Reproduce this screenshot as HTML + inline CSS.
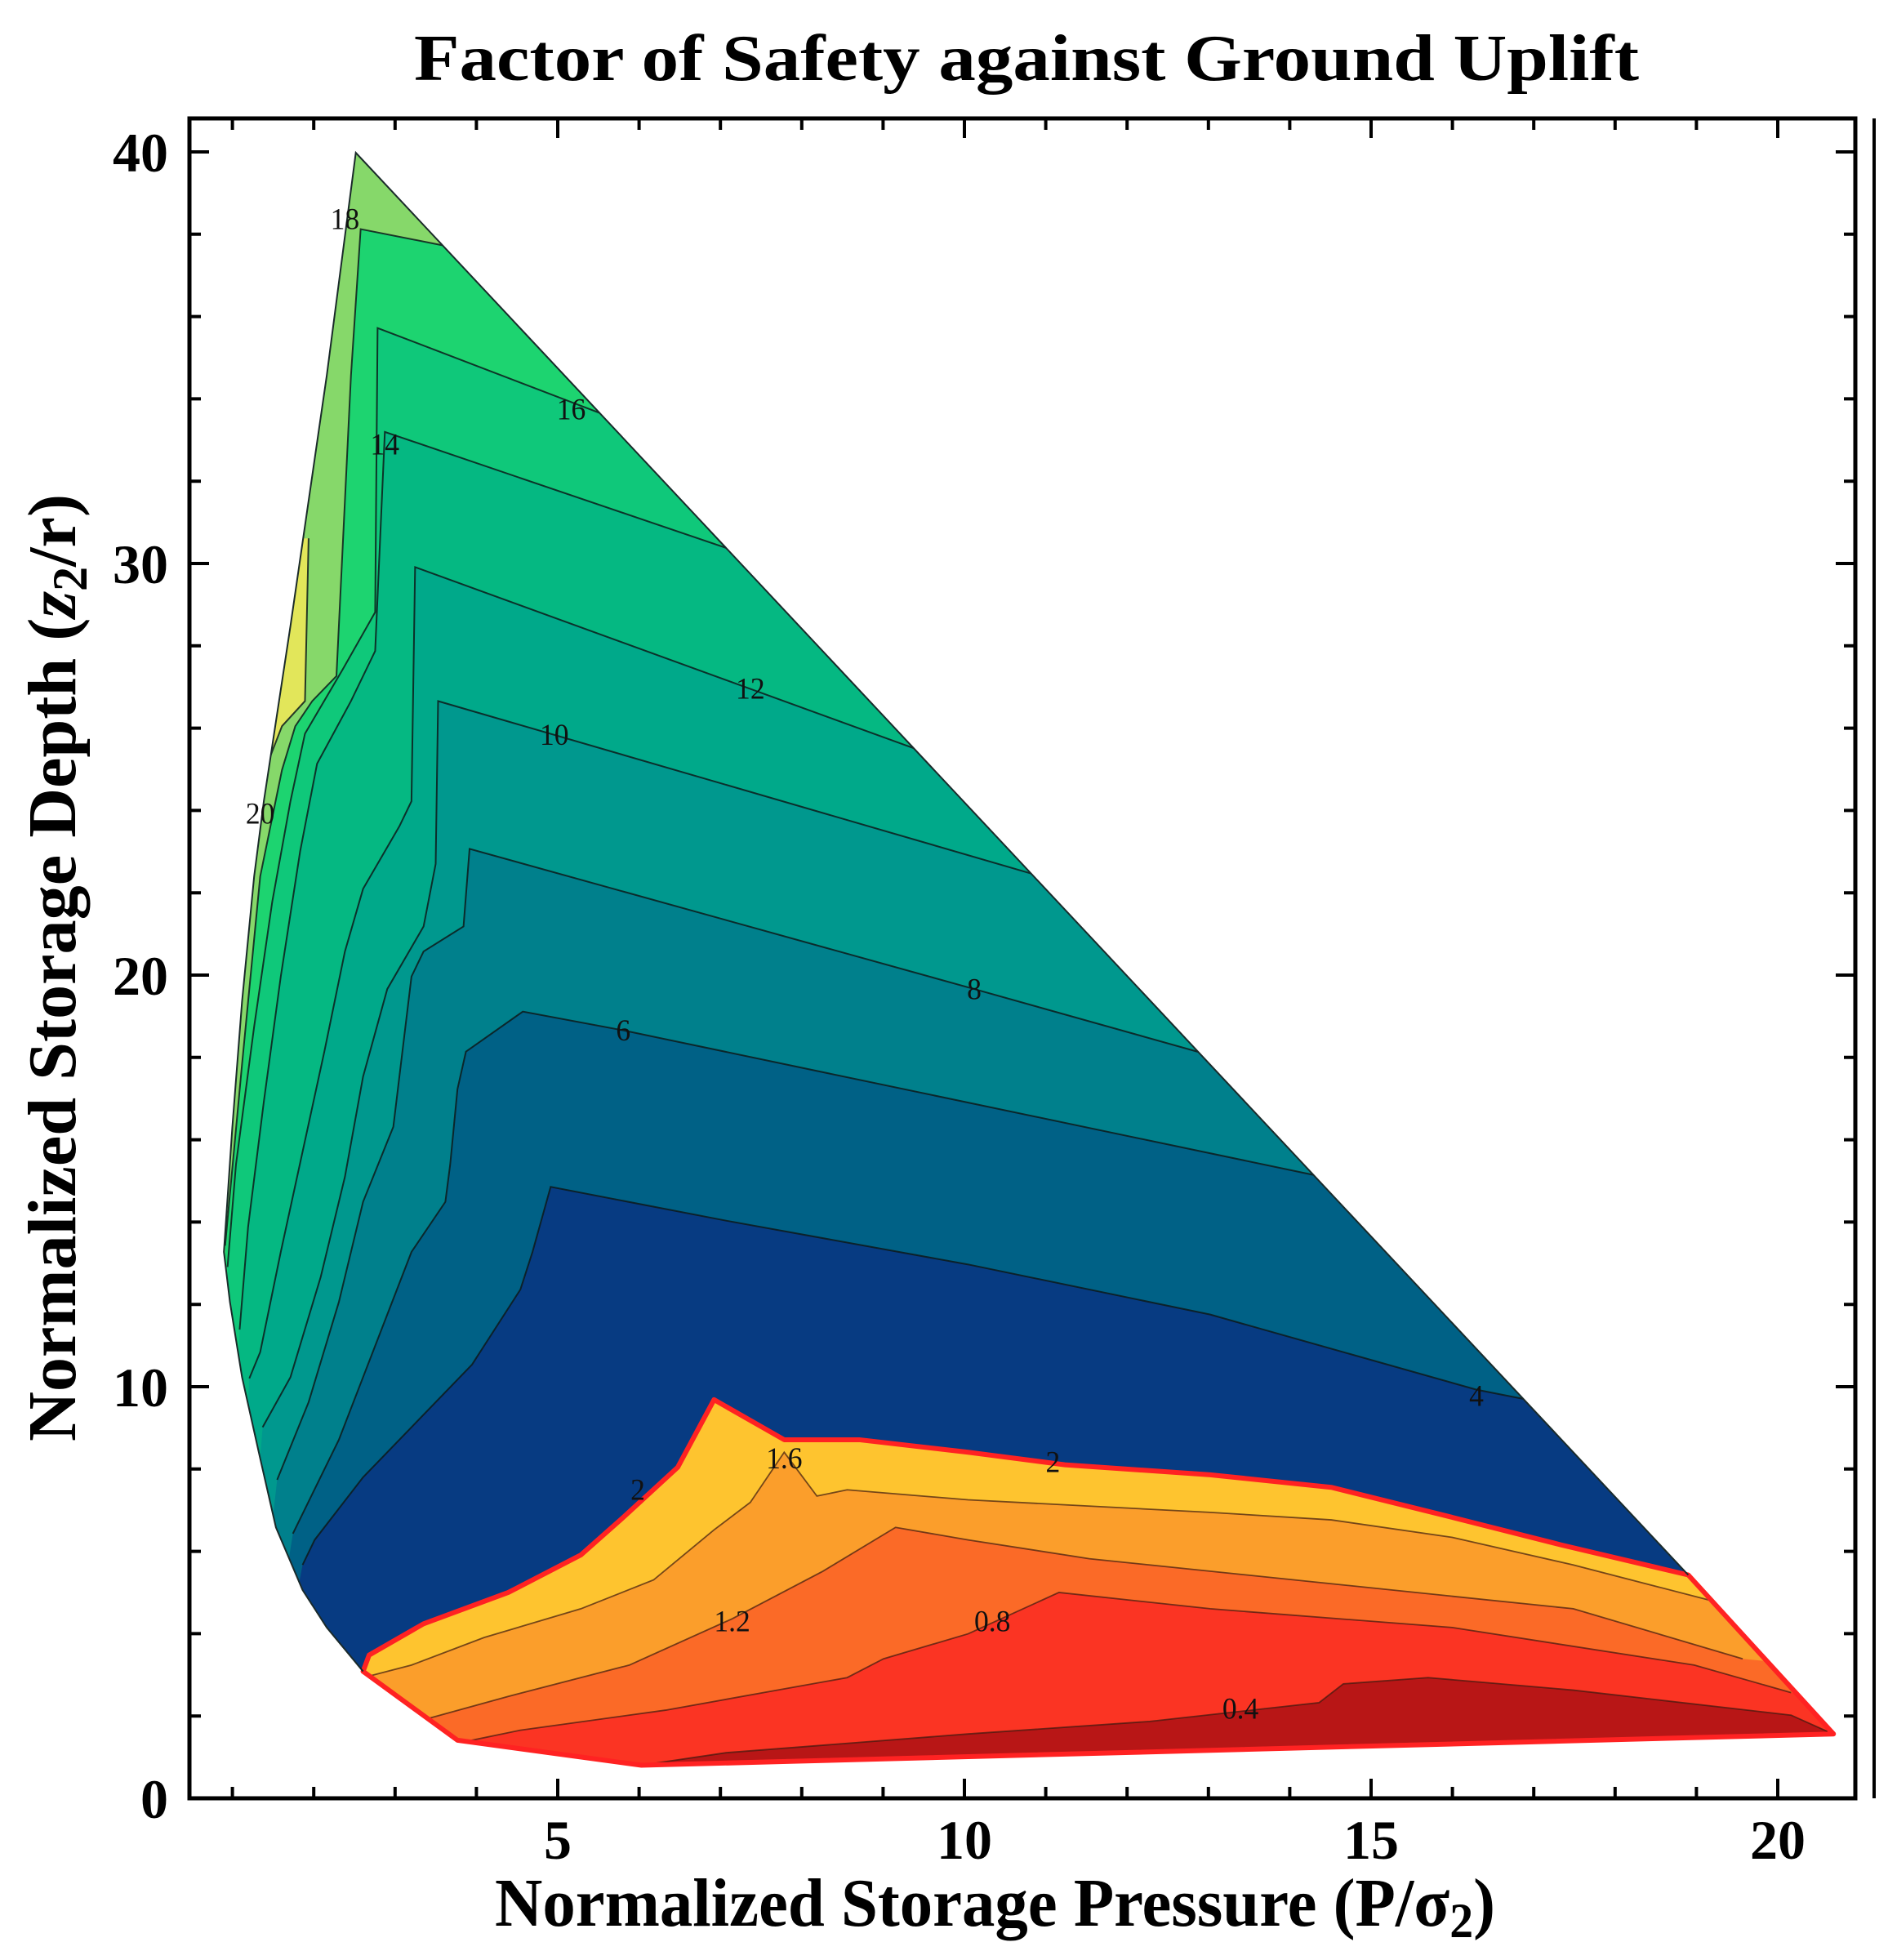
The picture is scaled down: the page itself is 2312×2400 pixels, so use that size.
<!DOCTYPE html>
<html><head><meta charset="utf-8"><style>
html,body{margin:0;padding:0;background:#fff;}
svg{display:block;}
</style></head><body>
<svg width="2312" height="2400" viewBox="0 0 2312 2400" xmlns="http://www.w3.org/2000/svg">
<defs>
<clipPath id="oc"><polygon points="294,122 1395,1258 1515,1385 530,1410 378,1390 300,1335 270,1300 250,1270 228,1220 215,1165 200,1100 190,1040 185,1000 192,900 200,800 210,700 218,640 240,500 270,300"/></clipPath>
<clipPath id="rc"><polygon points="300,1335 305,1322 350,1297 420,1272 480,1242 515,1212 560,1172 590,1118 648,1150 710,1150 800,1160 880,1170 1000,1178 1100,1188 1200,1212 1290,1234 1395,1258 1515,1385 530,1410 378,1390"/></clipPath>
</defs>
<g transform="matrix(1.482,0,0,1.533,0,0)">
<g clip-path="url(#oc)">
<rect x="0" y="0" width="1600" height="1600" fill="#86d86a"/>
<polygon fill="#e2e65a" points="255,430 252,560 233,580 221,610 213,650 206,700 150,700 150,430"/>
<polygon fill="#1dd470" points="366,196 298,183 290,300 278,540 258,560 244,580 233,615 215,700 200,850 186,995 180,1600 1700,1600 1700,196"/>
<polygon fill="#0fc87a" points="496,330 312,262 310,489 283,535 252,586 240,640 225,720 210,820 195,930 188,1012 180,1600 1700,1600 1700,330"/>
<polygon fill="#05b882" points="601,438 318,345 310,520 290,560 262,610 248,680 232,780 218,880 205,980 198,1062 180,1600 1700,1600 1700,438"/>
<polygon fill="#00a98a" points="756,598 343,453 340,640 330,660 300,710 285,760 268,840 250,920 232,1000 215,1080 206,1101 180,1600 1700,1600 1700,598"/>
<polygon fill="#00988e" points="853,698 362,560 360,690 350,740 320,790 300,860 285,940 265,1020 240,1100 217,1140 180,1600 1700,1600 1700,698"/>
<polygon fill="#00808c" points="993,841 805,790 388,678 383,740 350,760 340,780 325,900 300,960 280,1040 255,1120 229,1182 180,1600 1700,1600 1700,841"/>
<polygon fill="#006186" points="1088,939 515,823 432,808 385,840 378,870 372,930 368,960 340,1000 320,1050 300,1100 280,1150 242,1225 180,1600 1700,1600 1700,939"/>
<polygon fill="#073b82" points="1262,1118 1220,1110 1000,1050 800,1010 600,975 455,948 440,1000 430,1030 390,1090 330,1150 300,1180 260,1230 250,1250 180,1600 1700,1600 1700,1118"/>
<g fill="none" stroke="#0d1a1a" stroke-opacity="0.85" stroke-width="2">
<polyline vector-effect="non-scaling-stroke" points="366,196 298,183 290,300 278,540 258,560 244,580 233,615 215,700 200,850 186,995"/>
<polyline vector-effect="non-scaling-stroke" points="255,430 252,560 233,580 221,610 213,650 206,700"/>
<polyline vector-effect="non-scaling-stroke" points="496,330 312,262 310,489 283,535 252,586 240,640 225,720 210,820 195,930 188,1012"/>
<polyline vector-effect="non-scaling-stroke" points="601,438 318,345 310,520 290,560 262,610 248,680 232,780 218,880 205,980 198,1062"/>
<polyline vector-effect="non-scaling-stroke" points="756,598 343,453 340,640 330,660 300,710 285,760 268,840 250,920 232,1000 215,1080 206,1101"/>
<polyline vector-effect="non-scaling-stroke" points="853,698 362,560 360,690 350,740 320,790 300,860 285,940 265,1020 240,1100 217,1140"/>
<polyline vector-effect="non-scaling-stroke" points="993,841 805,790 388,678 383,740 350,760 340,780 325,900 300,960 280,1040 255,1120 229,1182"/>
<polyline vector-effect="non-scaling-stroke" points="1088,939 515,823 432,808 385,840 378,870 372,930 368,960 340,1000 320,1050 300,1100 280,1150 242,1225"/>
<polyline vector-effect="non-scaling-stroke" points="1262,1118 1220,1110 1000,1050 800,1010 600,975 455,948 440,1000 430,1030 390,1090 330,1150 300,1180 260,1230 250,1250"/>
</g>
</g>
<g clip-path="url(#rc)">
<rect x="0" y="1000" width="1600" height="600" fill="#fec42f"/>
<polygon fill="#fb9e2b" points="250,1345 300,1340 340,1330 400,1308 480,1285 540,1262 590,1222 620,1200 648,1160 675,1195 700,1190 800,1198 1000,1208 1100,1214 1200,1228 1300,1250 1420,1280 1600,1300 1600,1600 250,1600"/>
<polygon fill="#fb6a27" points="250,1380 345,1375 420,1355 520,1330 605,1293 680,1255 740,1220 800,1230 900,1245 1100,1265 1300,1285 1440,1325 1600,1340 1600,1600 250,1600"/>
<polygon fill="#fb3423" points="250,1400 380,1392 430,1382 550,1366 700,1340 730,1325 800,1305 875,1272 1000,1285 1200,1300 1400,1330 1480,1352 1600,1360 1600,1600 250,1600"/>
<polygon fill="#b81616" points="500,1420 530,1410 600,1400 800,1385 950,1375 1090,1360 1110,1345 1180,1340 1300,1350 1480,1370 1510,1383 1600,1390 1600,1600 500,1600"/>
<g fill="none" stroke="#3a1a10" stroke-opacity="0.7" stroke-width="1.8">
<polyline vector-effect="non-scaling-stroke" points="300,1340 340,1330 400,1308 480,1285 540,1262 590,1222 620,1200 648,1160 675,1195 700,1190 800,1198 1000,1208 1100,1214 1200,1228 1300,1250 1420,1280"/>
<polyline vector-effect="non-scaling-stroke" points="345,1375 420,1355 520,1330 605,1293 680,1255 740,1220 800,1230 900,1245 1100,1265 1300,1285 1440,1325"/>
<polyline vector-effect="non-scaling-stroke" points="380,1392 430,1382 550,1366 700,1340 730,1325 800,1305 875,1272 1000,1285 1200,1300 1400,1330 1480,1352"/>
<polyline vector-effect="non-scaling-stroke" points="530,1410 600,1400 800,1385 950,1375 1090,1360 1110,1345 1180,1340 1300,1350 1480,1370 1510,1383"/>
</g>
</g>
<polygon fill="none" stroke="#ff2222" stroke-width="6" stroke-linejoin="round" vector-effect="non-scaling-stroke" points="300,1335 305,1322 350,1297 420,1272 480,1242 515,1212 560,1172 590,1118 648,1150 710,1150 800,1160 880,1170 1000,1178 1100,1188 1200,1212 1290,1234 1395,1258 1515,1385 530,1410 378,1390"/>
<polyline fill="none" stroke="#1a2a2a" stroke-width="2" vector-effect="non-scaling-stroke" points="1395,1258 294,122 270,300 240,500 218,640 210,700 200,800 192,900 185,1000 190,1040 200,1100 215,1165 228,1220 250,1270 270,1300 300,1335"/>
<g font-family="Liberation Serif, serif" font-size="24" fill="#111" text-anchor="middle" dominant-baseline="central">
<text x="285" y="175">18</text><text x="472" y="327">16</text><text x="318" y="355">14</text>
<text x="620" y="550">12</text><text x="458" y="587">10</text><text x="215" y="650">20</text>
<text x="805" y="790">8</text><text x="515" y="823">6</text><text x="1220" y="1115">4</text>
<text x="648" y="1165">1.6</text><text x="527" y="1190">2</text><text x="870" y="1168">2</text>
<text x="605" y="1295">1.2</text><text x="820" y="1295">0.8</text><text x="1025" y="1365">0.4</text>
</g>
</g>
<rect x="232" y="145" width="2040" height="2057" fill="none" stroke="#000" stroke-width="5"/>
<line x1="2295" y1="145" x2="2295" y2="2202" stroke="#000" stroke-width="4"/>
<g stroke="#000" stroke-width="4">
<path d="M284.6 2202v-14M384.2 2202v-14M483.8 2202v-14M583.4 2202v-14M683 2202v-24M782.6 2202v-14M882.2 2202v-14M981.8 2202v-14M1081.4 2202v-14M1181 2202v-24M1280.6 2202v-14M1380.2 2202v-14M1479.8 2202v-14M1579.4 2202v-14M1679 2202v-24M1778.6 2202v-14M1878.2 2202v-14M1977.8 2202v-14M2077.4 2202v-14M2177 2202v-24"/>
<path d="M284.6 145v14M384.2 145v14M483.8 145v14M583.4 145v14M683 145v24M782.6 145v14M882.2 145v14M981.8 145v14M1081.4 145v14M1181 145v24M1280.6 145v14M1380.2 145v14M1479.8 145v14M1579.4 145v14M1679 145v24M1778.6 145v14M1878.2 145v14M1977.8 145v14M2077.4 145v14M2177 145v24"/>
<path d="M232 2202h24M232 2101.2h14M232 2000.4h14M232 1899.6h14M232 1798.8h14M232 1698h24M232 1597.2h14M232 1496.4h14M232 1395.6h14M232 1294.8h14M232 1194h24M232 1093.2h14M232 992.4h14M232 891.6h14M232 790.8h14M232 690h24M232 589.2h14M232 488.4h14M232 387.6h14M232 286.8h14M232 186h24"/>
<path d="M2272 2202h-24M2272 2101.2h-14M2272 2000.4h-14M2272 1899.6h-14M2272 1798.8h-14M2272 1698h-24M2272 1597.2h-14M2272 1496.4h-14M2272 1395.6h-14M2272 1294.8h-14M2272 1194h-24M2272 1093.2h-14M2272 992.4h-14M2272 891.6h-14M2272 790.8h-14M2272 690h-24M2272 589.2h-14M2272 488.4h-14M2272 387.6h-14M2272 286.8h-14M2272 186h-24"/>
</g>
<g font-family="Liberation Serif, serif" font-weight="bold" fill="#000">
<text x="1257" y="98" font-size="80" text-anchor="middle" textLength="1500" lengthAdjust="spacingAndGlyphs">Factor of Safety against Ground Uplift</text>
<g font-size="68" text-anchor="middle">
<text x="683" y="2276">5</text><text x="1181" y="2276">10</text><text x="1679" y="2276">15</text><text x="2177" y="2276">20</text>
</g>
<g font-size="68" text-anchor="end">
<text x="206" y="2226">0</text><text x="206" y="1722">10</text><text x="206" y="1218">20</text><text x="206" y="714">30</text><text x="206" y="210">40</text>
</g>
<text x="606" y="2358" font-size="84" textLength="1225" lengthAdjust="spacingAndGlyphs">Normalized Storage Pressure (P/σ<tspan font-size="60" dy="14">2</tspan><tspan dy="-14">)</tspan></text>
<text transform="translate(92,1765) rotate(-90)" font-size="84" textLength="1160" lengthAdjust="spacingAndGlyphs">Normalized Storage Depth (<tspan font-style="italic">z</tspan><tspan font-size="60" dy="14">2</tspan><tspan dy="-14">/r)</tspan></text>
</g>
</svg>
</body></html>
